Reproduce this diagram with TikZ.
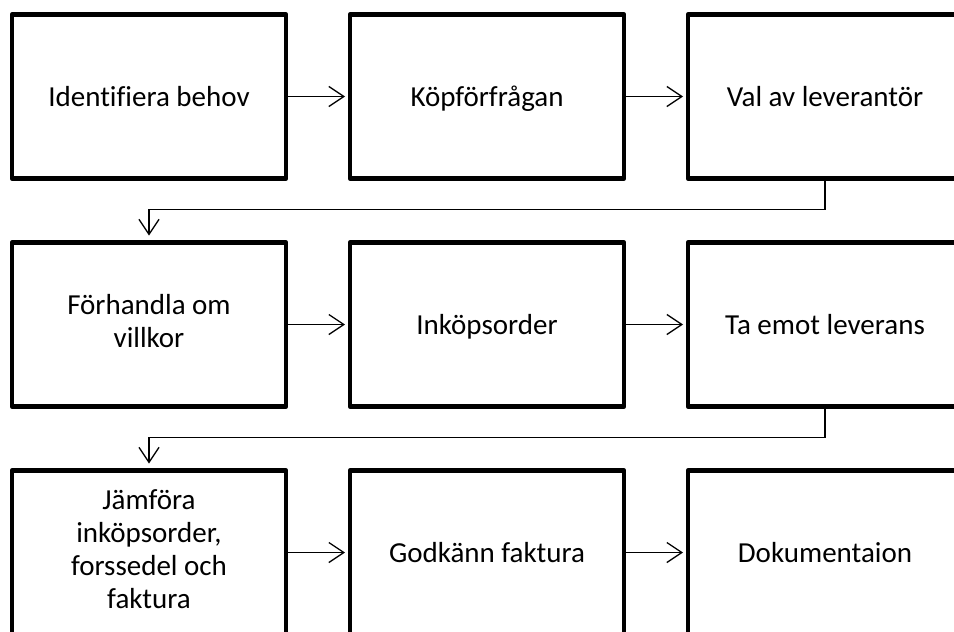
\documentclass[tikz,border=0pt]{standalone}
\usepackage{fontspec}
\setmainfont{Carlito}[Ligatures=NoCommon]
\usetikzlibrary{arrows.meta, positioning}

\begin{document}
\begin{tikzpicture}[auto, node distance=64pt, >={Straight Barb[length=15pt,width=20pt]}, line width=1.3pt]
          % Definition av stilar för blocken och pilarna
          \tikzstyle{block} = [draw, rectangle, line width=4.6pt, line join=round, outer sep=0pt, minimum height=164pt, minimum width=274pt, align=center, font=\fontsize{29}{33}\selectfont, execute at begin node={\rule{0pt}{26pt}}, execute at end node={\rule[-7pt]{0pt}{7pt}}]
          \tikzstyle{flow} = [->, shorten >=5pt] % Stil för pilarna

          \clip (0,0) rectangle (954pt,-632pt);

          % Definition av noder
          \node at (149pt,-96.5pt) [block] (identifiera) {Identifiera behov}; % Första steget
          \node [block, right=of identifiera] (kopforfragan) {Köpförfrågan};
          \node [block, right=of kopforfragan] (val) {Val av leverantör};
          \node [block, below=of identifiera] (forhandla) {Förhandla om\\villkor};
          \node [block, right=of forhandla] (inkopsorder) {Inköpsorder};
          \node [block, right=of inkopsorder] (leverans) {Ta emot leverans};
          \node [block, below=of forhandla] (jamfora) {Jämföra\\inköpsorder,\\forssedel och\\faktura};
          \node [block, right=of jamfora] (godkann) {Godkänn faktura};
          \node [block, right=of godkann] (dokumentation) {Dokumentaion}; % Sista steget

          % Kopplingar mellan noder
          \draw [flow] (identifiera) -- (kopforfragan);
          \draw [flow] (kopforfragan) -- (val);
          \draw [flow, shorten >=7pt] (val.south) -- ++(0,-31pt) -| (forhandla.north);
          \draw [flow] (forhandla) -- (inkopsorder);
          \draw [flow] (inkopsorder) -- (leverans);
          \draw [flow, shorten >=7pt] (leverans.south) -- ++(0,-31pt) -| (jamfora.north);
          \draw [flow] (jamfora) -- (godkann);
          \draw [flow] (godkann) -- (dokumentation);
        \end{tikzpicture}
\end{document}
